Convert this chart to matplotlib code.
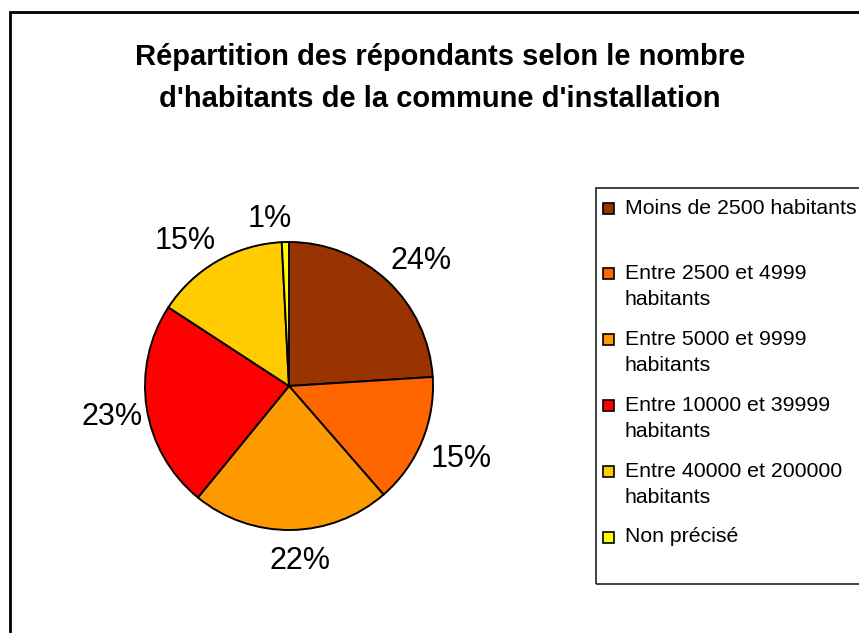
import matplotlib
matplotlib.use("Agg")
import numpy as np
import matplotlib.pyplot as plt
from matplotlib.patches import Rectangle

plt.rcParams['font.family'] = ['Liberation Sans', 'DejaVu Sans']

# data (clockwise from 12 o'clock)
categories = ["Moins de 2500 habitants",
              "Entre 2500 et 4999\nhabitants",
              "Entre 5000 et 9999\nhabitants",
              "Entre 10000 et 39999\nhabitants",
              "Entre 40000 et 200000\nhabitants",
              "Non précisé"]
values = [24.0, 14.6, 22.3, 23.3, 15.0, 0.8]
colors = ["#993300", "#FF6600", "#FF9900", "#FF0000", "#FFCC00", "#FFFF00"]
title = "Répartition des répondants selon le nombre\nd'habitants de la commune d'installation"

# label placement tweaks (distance in radii, clockwise angle nudge in degrees)
lab_dist = [1.28, 1.29, 1.19, 1.24, 1.26, 1.19]
lab_shift = [2.7, -0.8, -2.8, 0.0, -5.0, -5.0]

W, H = 859, 633
fig = plt.figure(figsize=(W / 100, H / 100), dpi=100)

def fx(px):
    return px / W

def fy(py):
    return 1 - py / H

# pie: centre (289, 386), radius 144 px
cx, cy, r = 289, 386, 144
ax = fig.add_axes([fx(cx - r), fy(cy + r), 2 * r / W, 2 * r / H])
wedges, texts, autotexts = ax.pie(values, colors=colors, startangle=90, counterclock=False,
                                  autopct='%.0f%%', pctdistance=1.25,
                                  wedgeprops=dict(edgecolor='black', linewidth=1.4),
                                  textprops=dict(fontsize=22, color='black'))
for w, t, d, s in zip(wedges, autotexts, lab_dist, lab_shift):
    ang = np.deg2rad((w.theta1 + w.theta2) / 2 - s)
    t.set_position((d * np.cos(ang), d * np.sin(ang)))
    t.set_va('center_baseline')
ax.set_xlim(-1, 1)
ax.set_ylim(-1, 1)
ax.set_aspect('equal')

# title
fig.text(fx(440), fy(78), title, ha='center', va='center', fontsize=21,
         fontweight='bold', linespacing=1.65)

# outer chart border
fig.add_artist(Rectangle((fx(9.5), -0.05), 1.0, fy(12) + 0.05, transform=fig.transFigure,
                         fill=False, edgecolor='black', linewidth=2))

# legend box
fig.add_artist(Rectangle((fx(596), fy(584)), 1.0, (584 - 188) / H, transform=fig.transFigure,
                         fill=False, edgecolor='#222222', linewidth=1.2))

y0, step, lh, sq = 208, 65.8, 26, 11
for i, (lab, col) in enumerate(zip(categories, colors)):
    y = y0 + i * step
    fig.add_artist(Rectangle((fx(608 - sq / 2), fy(y + sq / 2)), sq / W, sq / H,
                             transform=fig.transFigure, facecolor=col,
                             edgecolor='black', linewidth=1.2))
    for j, line in enumerate(lab.split("\n")):
        fig.text(fx(625), fy(y + j * lh), line, ha='left', va='center', fontsize=15.3)

fig.savefig("out.png", dpi=100)
